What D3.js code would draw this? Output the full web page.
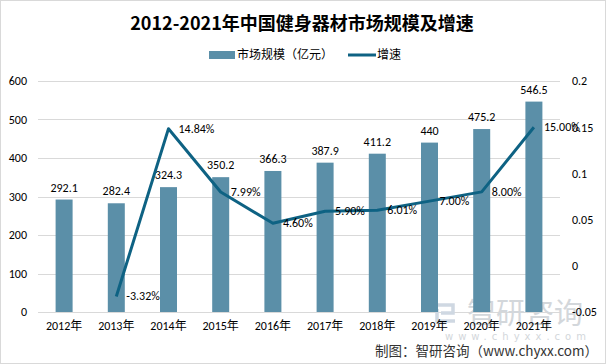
<!DOCTYPE html>
<html>
<head>
<meta charset="utf-8">
<script src="https://cdn.jsdelivr.net/npm/d3@7"></script>
<style>
body { margin: 0; background: #fff; }
svg { display: block; font-family: Calibri, Carlito, "Liberation Sans", "Noto Sans CJK SC", sans-serif; }
</style>
</head>
<body>
<svg id="chart" width="606" height="364"></svg>
<script>
var years = ["2012年", "2013年", "2014年", "2015年", "2016年", "2017年", "2018年", "2019年", "2020年", "2021年"];
var market = [292.1, 282.4, 324.3, 350.2, 366.3, 387.9, 411.2, 440, 475.2, 546.5];
var growth = [null, -0.0332, 0.1484, 0.0799, 0.046, 0.059, 0.0601, 0.07, 0.08, 0.15];
var growthLabels = ["", "-3.32%", "14.84%", "7.99%", "4.60%", "5.90%", "6.01%", "7.00%", "8.00%", "15.00%"];
var leftTicks = [0, 100, 200, 300, 400, 500, 600];
var rightTicks = [-0.05, 0, 0.05, 0.1, 0.15, 0.2];

var svg = d3.select("#chart");
var W = 606, H = 364;
var pl = 38, pr = 560, pt = 81, pb = 312;

svg.append("rect").attr("x", 0.5).attr("y", 0.5).attr("width", W - 1).attr("height", H - 1)
    .attr("fill", "#fff").attr("stroke", "#d9d9d9");

var x = d3.scaleBand().domain(years).range([pl, pr]);
var y = d3.scaleLinear().domain([0, 600]).range([pb, pt]);
var y2 = d3.scaleLinear().domain([-0.05, 0.2]).range([pb, pt]);

// grid
svg.append("g").selectAll("line").data(leftTicks).enter().append("line")
    .attr("x1", pl).attr("x2", pr)
    .attr("y1", function (d) { return Math.round(y(d)) + 0.5; })
    .attr("y2", function (d) { return Math.round(y(d)) + 0.5; })
    .attr("stroke", "#d9d9d9").attr("stroke-width", 1);

// watermark
var wm = svg.append("g").attr("fill", "#d3d7db");
wm.append("path")
    .attr("d", "M437,305 H453 V313 H441 M437,309 V321 H455")
    .attr("fill", "none").attr("stroke", "#cfd8e2").attr("stroke-width", 3.5);
wm.append("text").attr("x", 467).attr("y", 324).attr("font-size", 29)
    .attr("font-family", "'Noto Sans CJK SC', sans-serif").text("智研咨询");
wm.append("text").attr("x", 445).attr("y", 340).attr("font-size", 10)
    .attr("letter-spacing", 5).attr("font-family", "'DejaVu Sans', sans-serif").text("www.chyxx.com");

// axes
var axL = svg.append("g").attr("transform", "translate(" + (pl - 11) + ",0)")
    .call(d3.axisLeft(y).tickValues(leftTicks).tickSize(0).tickPadding(0));
var axR = svg.append("g").attr("transform", "translate(" + (pr + 12) + ",0)")
    .call(d3.axisRight(y2).tickValues(rightTicks).tickSize(0).tickPadding(0)
        .tickFormat(function (d) { return String(+d.toFixed(2)); }));
var axB = svg.append("g").attr("transform", "translate(0," + (pb + 9) + ")")
    .call(d3.axisBottom(x).tickSize(0).tickPadding(0));
[axL, axR, axB].forEach(function (a) {
    a.select(".domain").remove();
    a.selectAll("text").attr("font-size", 12).attr("fill", "#000")
        .attr("font-family", "Calibri, Carlito, 'Liberation Sans', 'Noto Sans CJK SC', sans-serif");
});

// bars
var bw = 17;
svg.append("g").selectAll("rect").data(market).enter().append("rect")
    .attr("x", function (d, i) { return x(years[i]) + x.bandwidth() / 2 - bw / 2; })
    .attr("y", function (d) { return y(d); })
    .attr("width", bw)
    .attr("height", function (d) { return y(0) - y(d); })
    .attr("fill", "#5b8fa8");

svg.append("g").selectAll("text").data(market).enter().append("text")
    .attr("x", function (d, i) { return x(years[i]) + x.bandwidth() / 2; })
    .attr("y", function (d) { return y(d) - 8; })
    .attr("text-anchor", "middle").attr("font-size", 12).attr("fill", "#000")
    .text(function (d) { return d; });

// line
var pts = growth.map(function (g, i) { return { g: g, i: i }; }).filter(function (d) { return d.g !== null; });
var line = d3.line()
    .x(function (d) { return x(years[d.i]) + x.bandwidth() / 2; })
    .y(function (d) { return y2(d.g); });
svg.append("path").datum(pts).attr("d", line)
    .attr("fill", "none").attr("stroke", "#0e6283").attr("stroke-width", 3)
    .attr("stroke-linejoin", "round");

svg.append("g").selectAll("text").data(pts).enter().append("text")
    .attr("x", function (d) { return x(years[d.i]) + x.bandwidth() / 2 + 10; })
    .attr("y", function (d) { return y2(d.g) + 4; })
    .attr("font-size", 12).attr("fill", "#000")
    .text(function (d) { return growthLabels[d.i]; });

// title
svg.append("text").attr("x", 302).attr("y", 30).attr("text-anchor", "middle")
    .attr("font-size", 18).attr("font-weight", "bold").attr("fill", "#000")
    .attr("font-family", "'Noto Sans CJK SC', sans-serif")
    .text("2012-2021年中国健身器材市场规模及增速");

// legend
svg.append("rect").attr("x", 209).attr("y", 51).attr("width", 26).attr("height", 8).attr("fill", "#5b8fa8");
svg.append("text").attr("x", 237).attr("y", 59).attr("font-size", 12).attr("fill", "#000")
    .attr("font-family", "'Noto Sans CJK SC', sans-serif").text("市场规模（亿元）");
svg.append("line").attr("x1", 348).attr("x2", 376).attr("y1", 55).attr("y2", 55)
    .attr("stroke", "#0e6283").attr("stroke-width", 3);
svg.append("text").attr("x", 377).attr("y", 59).attr("font-size", 12).attr("fill", "#000")
    .attr("font-family", "'Noto Sans CJK SC', sans-serif").text("增速");

// source
svg.append("text").attr("x", 598).attr("y", 356).attr("text-anchor", "end")
    .attr("font-size", 13.5).attr("fill", "#333")
    .attr("font-family", "'Noto Sans CJK SC', sans-serif")
    .text("制图：智研咨询（www.chyxx.com）");
</script>
</body>
</html>
